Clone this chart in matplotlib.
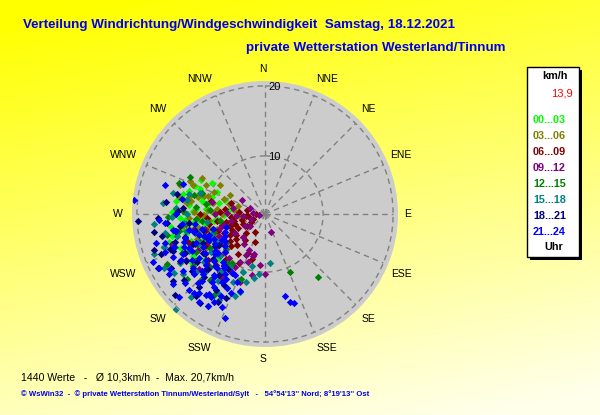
import numpy as np
import matplotlib
matplotlib.use("Agg")
import matplotlib.pyplot as plt
from matplotlib.patches import Rectangle

# Windrichtung (Grad) und Geschwindigkeit (km/h) je Zeitabschnitt
dir_00 = [292, 285, 298, 280, 275, 288, 270, 265, 262, 278, 300, 283, 258, 252, 268, 290, 274, 260,
          247, 255, 282, 295, 271, 264, 250, 243, 276, 286, 266, 238, 257, 279, 289, 261, 245, 273,
          240, 248, 256, 263, 269, 277, 284, 291, 233, 226, 252, 259, 267, 281, 244, 236, 272, 287, 254, 262]
spd_00 = [12.5, 11.8, 12.0, 13.5, 10.2, 9.6, 12.8, 11.2, 9.0, 14.6, 10.5, 8.4, 12.4, 10.8, 7.6, 14.2, 11.6, 13.8,
          11.3, 9.8, 10.9, 9.2, 15.0, 8.6, 13.0, 12.2, 6.8, 11.0, 13.2, 10.0, 15.4, 12.9, 7.8, 10.4, 14.0, 9.4,
          13.6, 14.6, 13.4, 12.0, 10.6, 12.6, 13.8, 11.6, 12.4, 11.0, 9.2, 11.8, 13.8, 9.8, 10.6, 14.2, 12.0, 13.0, 16.0, 15.2]

dir_03 = [300, 296, 288, 282, 276, 270, 292, 285, 264, 258, 279, 272, 303, 290, 267, 260,
          253, 284, 277, 294, 262, 250, 287, 281, 269, 298, 274, 256, 266, 248, 289, 280,
          263, 271, 278, 286, 293, 255, 246, 240, 273, 283, 259, 268]
spd_03 = [12.1, 11.0, 10.2, 9.3, 8.6, 7.8, 12.8, 7.0, 9.7, 11.4, 13.2, 11.8, 9.4, 8.0, 12.6, 6.4,
          8.8, 11.6, 6.2, 13.4, 13.6, 12.0, 5.8, 14.2, 10.4, 7.4, 9.9, 7.2, 5.4, 10.6, 14.6, 12.4,
          8.2, 9.0, 13.0, 10.8, 9.6, 10.2, 9.2, 11.4, 14.4, 12.8, 12.8, 11.2]

dir_06 = [268, 262, 255, 248, 242, 236, 230, 225, 218, 210, 204, 196, 275, 282, 288, 258, 250, 244, 238, 232,
          226, 214, 265, 272, 252, 246, 240, 234, 228, 222, 260, 270, 254, 243, 237, 231, 200, 284, 256, 247,
          264, 258, 251, 245, 239, 233, 227, 221, 216, 208, 262, 254, 248, 242, 236, 229, 224, 266, 277, 250]
spd_06 = [3.0, 4.2, 5.1, 3.6, 6.0, 4.8, 7.2, 5.6, 6.4, 4.7, 7.8, 8.4, 5.4, 4.4, 6.8, 7.4, 8.8, 7.0, 9.2, 8.0,
          9.6, 8.6, 6.6, 8.2, 6.2, 5.2, 4.0, 6.8, 10.4, 7.6, 9.8, 11.0, 10.6, 11.4, 10.0, 12.2, 6.0, 9.6, 8.0, 12.6,
          4.4, 6.2, 7.0, 8.2, 7.6, 9.0, 8.4, 10.2, 10.8, 9.6, 8.6, 9.4, 10.2, 11.2, 12.0, 12.6, 11.8, 10.0, 7.4, 13.4]

dir_09 = [301, 290, 276, 262, 250, 240, 232, 224, 215, 205, 195, 180, 162, 255, 245,
          236, 228, 270, 283, 258, 248, 219, 210, 186, 238, 266, 252, 230, 242, 256,
          264, 258, 252, 244, 234, 226, 218, 208, 200, 272, 280, 240, 200, 204, 196, 210, 214, 192]
spd_09 = [5.5, 4.0, 3.4, 2.6, 3.8, 5.0, 4.4, 6.2, 7.0, 8.2, 7.6, 10.3, 4.4, 7.8, 9.0,
          10.2, 11.6, 8.8, 9.4, 12.0, 13.0, 9.8, 11.2, 9.0, 6.8, 5.8, 15.6, 14.0, 12.6, 10.6,
          4.8, 6.6, 8.4, 10.8, 8.8, 9.6, 12.2, 9.4, 12.0, 7.2, 6.4, 14.8, 9.0, 7.4, 8.0, 10.4, 12.8, 10.6]

dir_12 = [157, 140, 230, 245, 258, 272, 285, 296, 238, 250, 264, 220, 212, 226, 241,
          255, 268, 280, 233, 247, 261, 274, 218, 290, 236, 252, 266, 243, 228, 259,
          207, 216, 224, 234, 246, 256, 263, 276, 288, 240, 230, 250, 270, 214, 200]
spd_12 = [10.7, 13.4, 16.2, 14.8, 16.0, 13.4, 12.2, 13.6, 11.0, 9.4, 10.8, 14.0, 15.4, 12.6, 13.0,
          12.0, 15.6, 10.2, 8.6, 11.8, 8.2, 9.6, 10.6, 14.8, 13.8, 16.8, 11.6, 17.4, 9.2, 14.2,
          13.6, 12.0, 15.0, 14.4, 12.4, 14.6, 13.0, 11.6, 11.2, 10.0, 10.6, 15.4, 14.6, 10.2, 11.6]

dir_15 = [174, 186, 223, 283, 276, 265, 252, 240, 230, 215, 205, 196, 258, 246, 235,
          270, 288, 262, 248, 227, 211, 242, 256, 268, 280, 237, 220, 250, 232, 200,
          208, 218, 226, 234, 244, 254, 264, 274, 198, 213, 239, 249, 259, 285, 222, 201, 194, 212, 190]
spd_15 = [8.7, 10.3, 20.5, 15.2, 16.4, 17.6, 16.8, 15.8, 14.6, 13.4, 12.4, 11.8, 13.2, 12.0, 11.2,
          12.8, 11.4, 10.0, 9.8, 10.4, 14.8, 18.0, 14.6, 15.0, 13.0, 17.2, 16.6, 18.6, 12.8, 14.2,
          15.6, 12.2, 13.6, 16.2, 13.8, 11.6, 13.4, 14.4, 13.4, 10.8, 9.6, 11.0, 16.2, 13.0, 17.6, 10.6, 9.4, 17.2, 11.0]

dir_18 = [267, 213, 222, 231, 240, 249, 258, 226, 235, 244, 253, 262, 217, 229, 238,
          247, 256, 265, 274, 234, 243, 252, 220, 261, 283, 208, 246, 237, 255, 228,
          210, 216, 224, 232, 241, 250, 259, 268, 277, 205, 219, 227, 236, 245, 254, 263, 272, 214, 239, 248]
spd_18 = [19.8, 14.6, 15.8, 16.6, 17.2, 17.6, 16.8, 13.0, 13.6, 14.4, 15.2, 14.0, 12.6, 11.6, 12.2,
          12.8, 12.0, 15.8, 13.4, 18.0, 18.8, 18.4, 17.0, 17.8, 14.6, 16.0, 10.6, 10.2, 10.8, 19.0,
          13.4, 17.4, 14.2, 15.0, 15.6, 16.2, 14.8, 17.0, 16.0, 15.0, 11.0, 13.2, 9.6, 11.4, 13.6, 12.6, 14.2, 11.2, 14.8, 15.8]

dir_21 = [166, 164, 162, 201, 286, 247, 243, 226, 276, 267, 210, 215, 220, 225, 230, 235, 240, 245,
          250, 255, 260, 265, 218, 223, 228, 233, 238, 243, 248, 253, 258, 212, 232, 237, 242, 247,
          252, 257, 227, 217, 222, 234, 239, 244, 249, 254, 231, 236, 241, 246, 251, 270, 280, 290,
          205, 208, 212, 216, 219, 224, 229, 233, 238, 244, 249, 254, 259, 263, 214, 221, 226, 231,
          236, 241, 246, 251, 256, 203, 198, 209, 239, 245, 250, 262,
          207, 211, 215, 220, 224, 229, 213, 218, 222, 206, 202, 226, 217, 230]
spd_21 = [13.8, 14.8, 15.1, 17.6, 16.6, 19.1, 18.7, 18.7, 20.5, 16.9, 16.2, 15.6, 16.4, 17.0, 15.0, 16.0, 17.4, 16.2,
          15.6, 17.8, 15.0, 16.0, 14.0, 14.8, 13.8, 14.6, 14.0, 13.4, 14.2, 13.6, 12.8, 13.2, 12.4, 12.0, 11.8, 12.4,
          11.6, 11.0, 11.6, 11.4, 12.0, 10.6, 10.0, 9.8, 10.2, 9.4, 9.0, 8.6, 8.2, 8.0, 7.6, 14.4, 13.8, 14.2,
          16.4, 15.0, 17.2, 16.0, 13.2, 15.4, 16.8, 18.2, 17.8, 14.8, 17.0, 16.6, 14.6, 13.6, 12.0, 10.8, 9.6, 10.8,
          13.0, 15.4, 13.6, 14.0, 12.2, 14.0, 13.2, 11.4, 8.8, 10.6, 11.0, 11.8,
          13.6, 12.6, 14.4, 13.0, 12.0, 12.8, 15.8, 11.2, 16.8, 11.4, 12.2, 14.0, 17.4, 10.4]

groups = [(dir_00, spd_00), (dir_03, spd_03), (dir_06, spd_06), (dir_09, spd_09),
          (dir_12, spd_12), (dir_15, spd_15), (dir_18, spd_18), (dir_21, spd_21)]
labels = ["00...03", "03...06", "06...09", "09...12", "12...15", "15...18", "18...21", "21...24"]
colors = ["#00FF00", "#808000", "#800000", "#800080", "#008000", "#008080", "#000080", "#0000FF"]
compass = ["N", "NNE", "NE", "ENE", "E", "ESE", "SE", "SSE",
           "S", "SSW", "SW", "WSW", "W", "WNW", "NW", "NNW"]
# Lage der Himmelsrichtungs-Beschriftung in Pixeln (wie im Original gesetzt)
compass_px = [(263, 69), (327, 79), (368, 109), (401, 155), (408, 214), (401, 274), (368, 319), (327, 348),
              (263, 359), (199, 348), (158, 319), (123, 274), (118, 214), (123, 155), (158, 109), (199, 79)]
rings = [10, 20]
r_min, r_max = 1.7, 20.7

W, H = 600, 415
fig = plt.figure(figsize=(W / 100, H / 100), dpi=100)

# gelber Verlauf im Hintergrund
bg = fig.add_axes([0, 0, 1, 1])
yy, xx = np.mgrid[0:1:200j, 0:1:200j]
t = np.clip(0.85 * yy + 0.25 * xx - 0.05, 0, 1)
img = np.zeros((200, 200, 3))
img[..., 0] = 1.0
img[..., 1] = 1.0
img[..., 2] = 0.92 * t
bg.imshow(img, extent=[0, 1, 0, 1], origin="upper", aspect="auto")
bg.set_xlim(0, 1)
bg.set_ylim(0, 1)
bg.axis("off")

cx, cy, rad = 265, 214, 133
ax = fig.add_axes([(cx - rad) / W, (H - cy - rad) / H, 2 * rad / W, 2 * rad / H], projection="polar")
ax.set_theta_zero_location("N")
ax.set_theta_direction(-1)
ax.set_ylim(r_min, r_max)
ax.set_facecolor("#CCCCCC")
ax.grid(False)
ax.set_xticks([])
ax.set_yticks([])
ax.spines["polar"].set_visible(False)

dash = dict(color="#808080", lw=1, ls=(0, (4, 3)), zorder=1)
tt = np.linspace(0, 2 * np.pi, 400)
for r in rings:
    ax.plot(tt, np.full_like(tt, r), **dash)
for k in range(16):
    a = np.deg2rad(k * 22.5)
    ax.plot([a, a], [r_min, rings[-1]], **dash)
for name, (px, py) in zip(compass, compass_px):
    fig.text(px / W, 1 - py / H, name, ha="center", va="center", fontsize=7.5,
             family="Liberation Sans")
for r in rings:
    ypx = cy - (r - r_min) * rad / (r_max - r_min)
    fig.text(268 / W, 1 - (ypx + 1) / H, str(r), ha="left", va="center", fontsize=8,
             family="Liberation Sans", zorder=5)

for (d, s), c in zip(groups, colors):
    ax.scatter(np.deg2rad(d), s, marker="D", s=14, color=c, linewidths=0, zorder=3)

# Titel
blue = "#0000F0"
fig.text(23 / W, 1 - 25 / H, "Verteilung Windrichtung/Windgeschwindigkeit  Samstag, 18.12.2021",
         color=blue, fontsize=9.6, fontweight="bold", family="Liberation Sans", va="center")
fig.text(505 / W, 1 - 48 / H, "private Wetterstation Westerland/Tinnum",
         color=blue, fontsize=9.6, fontweight="bold", family="Liberation Sans", va="center", ha="right")

# Legende
x0, x1, y0, y1 = 527, 579, 67, 257
fig.patches.append(Rectangle(((x0 + 3) / W, 1 - (y1 + 3) / H), (x1 - x0) / W, (y1 - y0) / H,
                             transform=fig.transFigure, facecolor="black", edgecolor="none"))
fig.patches.append(Rectangle((x0 / W, 1 - y1 / H), (x1 - x0) / W, (y1 - y0) / H,
                             transform=fig.transFigure, facecolor="white", edgecolor="black", lw=1))
leg_kw = dict(fontsize=7.8, fontweight="bold", family="Liberation Sans", va="center")
fig.text(555 / W, 1 - 76 / H, "km/h", color="black", ha="center", **leg_kw)
fig.text(573 / W, 1 - 93 / H, "13,9", color="red", ha="right", fontsize=8,
         family="Liberation Sans", va="center")
for i, (lab, c) in enumerate(zip(labels, colors)):
    fig.text(533 / W, 1 - (120 + i * 16) / H, lab, color=c, ha="left", **leg_kw)
fig.text(554 / W, 1 - 247 / H, "Uhr", color="black", ha="center", **leg_kw)

# Fusszeilen
fig.text(21 / W, 1 - 377 / H, "1440 Werte   -   Ø 10,3km/h  -  Max. 20,7km/h",
         fontsize=7.6, family="Liberation Sans", va="center")
fig.text(21 / W, 1 - 394 / H,
         "© WsWin32  -  © private Wetterstation Tinnum/Westerland/Sylt   -   54°54'13'' Nord; 8°19'13'' Ost",
         fontsize=5.6, fontweight="bold", family="Liberation Sans", va="center", color=blue)

fig.savefig("out.png", dpi=100)
